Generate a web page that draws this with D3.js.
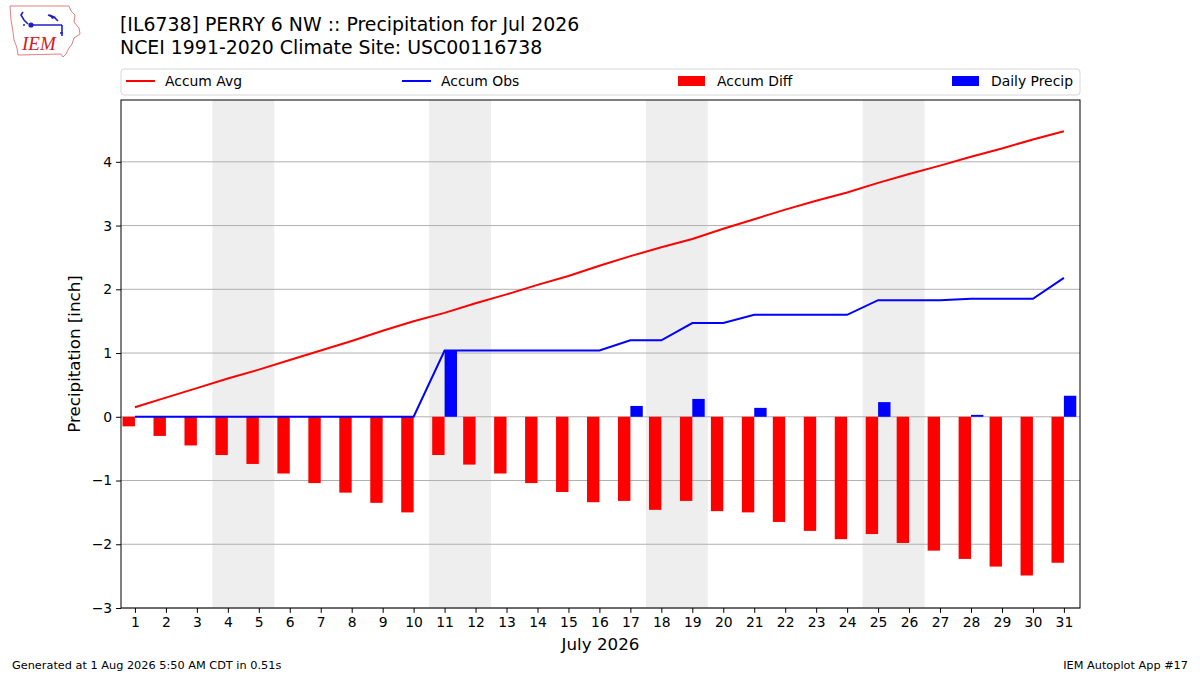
<!DOCTYPE html>
<html>
<head>
<meta charset="utf-8">
<script src="https://cdn.jsdelivr.net/npm/d3@7"></script>
<style>
  body { margin: 0; background: #fff; }
  svg { font-family: "DejaVu Sans", sans-serif; }
</style>
</head>
<body>
<svg id="chart"></svg>
<script>
let w = 1200;
let h = 675;
let margin = {left: 121, right: 1080, top: 100, bottom: 608};

// day of month
let days = d3.range(1, 32);
// accumulated climatology (inch)
let accumAvg = [0.15, 0.30, 0.45, 0.60, 0.74, 0.89, 1.04, 1.19, 1.35, 1.50,
                1.63, 1.78, 1.92, 2.07, 2.21, 2.37, 2.52, 2.66, 2.79, 2.95,
                3.10, 3.25, 3.39, 3.52, 3.67, 3.81, 3.94, 4.08, 4.21, 4.35, 4.48];
// accumulated observed (inch)
let accumObs = [0, 0, 0, 0, 0, 0, 0, 0, 0, 0,
                1.04, 1.04, 1.04, 1.04, 1.04, 1.04, 1.20, 1.20, 1.47, 1.47,
                1.60, 1.60, 1.60, 1.60, 1.83, 1.83, 1.83, 1.85, 1.85, 1.85, 2.18];
// observed minus climatology
let accumDiff = [-0.15, -0.30, -0.45, -0.60, -0.74, -0.89, -1.04, -1.19, -1.35, -1.50,
                 -0.60, -0.75, -0.89, -1.04, -1.18, -1.34, -1.32, -1.46, -1.32, -1.48,
                 -1.50, -1.65, -1.79, -1.92, -1.84, -1.98, -2.10, -2.23, -2.35, -2.49, -2.29];
// daily precip
let dailyPrecip = [0, 0, 0, 0, 0, 0, 0, 0, 0, 0,
                   1.04, 0, 0, 0, 0, 0, 0.17, 0, 0.28, 0,
                   0.14, 0, 0, 0, 0.23, 0, 0, 0.03, 0, 0, 0.33];
// saturdays
let weekends = [4, 11, 18, 25];
let yTicks = [-3, -2, -1, 0, 1, 2, 3, 4];

let svg = d3.select('#chart')
    .attr('width', w)
    .attr('height', h);

let xScale = d3.scaleLinear().domain([0.55, 31.52]).range([margin.left, margin.right]);
let yScale = d3.scaleLinear().domain([-3, 4.97]).range([margin.bottom, margin.top]);

// weekend shading
svg.append('g')
    .selectAll('rect')
    .data(weekends)
    .enter()
    .append('rect')
        .attr('x', d => xScale(d - 0.5))
        .attr('width', d => xScale(d + 1.5) - xScale(d - 0.5))
        .attr('y', margin.top)
        .attr('height', margin.bottom - margin.top)
        .attr('fill', '#eeeeee');

// grid
svg.append('g')
    .selectAll('line')
    .data(yTicks)
    .enter()
    .append('line')
        .attr('x1', margin.left)
        .attr('x2', margin.right)
        .attr('y1', d => yScale(d))
        .attr('y2', d => yScale(d))
        .attr('stroke', '#b0b0b0')
        .attr('stroke-width', 1);

let barW = xScale(1.4) - xScale(1);

// accum diff bars (left of day)
svg.append('g')
    .selectAll('rect')
    .data(days)
    .enter()
    .append('rect')
        .attr('x', d => xScale(d - 0.4))
        .attr('width', barW)
        .attr('y', (d, i) => yScale(Math.max(0, accumDiff[i])))
        .attr('height', (d, i) => Math.abs(yScale(accumDiff[i]) - yScale(0)))
        .attr('fill', '#ff0000');

// daily precip bars (right of day)
svg.append('g')
    .selectAll('rect')
    .data(days.filter((d, i) => dailyPrecip[i] > 0))
    .enter()
    .append('rect')
        .attr('x', d => xScale(d))
        .attr('width', barW)
        .attr('y', d => yScale(dailyPrecip[d - 1]))
        .attr('height', d => yScale(0) - yScale(dailyPrecip[d - 1]))
        .attr('fill', '#0000ff');

let line = d3.line()
    .x((d, i) => xScale(days[i]))
    .y(d => yScale(d));

svg.append('path')
    .attr('d', line(accumAvg))
    .attr('fill', 'none')
    .attr('stroke', '#ff0000')
    .attr('stroke-width', 2);

svg.append('path')
    .attr('d', line(accumObs))
    .attr('fill', 'none')
    .attr('stroke', '#0000ff')
    .attr('stroke-width', 2);

// axes
let xAxis = d3.axisBottom(xScale).tickValues(days).tickSize(4.9).tickPadding(4).tickFormat(d3.format('d'));
let yAxis = d3.axisLeft(yScale).tickValues(yTicks).tickSize(4.9).tickPadding(4)
    .tickFormat(d => d < 0 ? '\u2212' + Math.abs(d) : d);

let xAxisGroup = svg.append('g')
    .attr('transform', `translate(0, ${margin.bottom})`)
    .call(xAxis);
let yAxisGroup = svg.append('g')
    .attr('transform', `translate(${margin.left}, 0)`)
    .call(yAxis);

[xAxisGroup, yAxisGroup].forEach(g => {
    g.select('.domain').remove();
    g.selectAll('text')
        .attr('font-family', 'DejaVu Sans')
        .attr('font-size', '13.9px')
        .attr('fill', '#000');
    g.selectAll('line').attr('stroke', '#000').attr('stroke-width', 1);
});

// frame
svg.append('rect')
    .attr('x', margin.left)
    .attr('y', margin.top)
    .attr('width', margin.right - margin.left)
    .attr('height', margin.bottom - margin.top)
    .attr('fill', 'none')
    .attr('stroke', '#000')
    .attr('stroke-width', 1);

// axis labels
svg.append('text')
    .attr('x', (margin.left + margin.right) / 2)
    .attr('y', 650)
    .attr('text-anchor', 'middle')
    .attr('font-size', '16.7px')
    .text('July 2026');

svg.append('text')
    .attr('transform', `translate(80, ${(margin.top + margin.bottom) / 2}) rotate(-90)`)
    .attr('text-anchor', 'middle')
    .attr('font-size', '16.7px')
    .text('Precipitation [inch]');

// title
svg.append('text')
    .attr('x', 120)
    .attr('y', 31)
    .attr('font-size', '18.9px')
    .text('[IL6738] PERRY 6 NW :: Precipitation for Jul 2026');
svg.append('text')
    .attr('x', 120)
    .attr('y', 54)
    .attr('font-size', '18.9px')
    .text('NCEI 1991-2020 Climate Site: USC00116738');

// legend
let legend = svg.append('g');
legend.append('rect')
    .attr('x', 121)
    .attr('y', 69)
    .attr('width', 959)
    .attr('height', 26)
    .attr('rx', 3)
    .attr('fill', '#fff')
    .attr('stroke', '#d6d6d6');

let legendItems = [
    {label: 'Accum Avg', color: '#ff0000', kind: 'line', x: 126},
    {label: 'Accum Obs', color: '#0000ff', kind: 'line', x: 402},
    {label: 'Accum Diff', color: '#ff0000', kind: 'rect', x: 678},
    {label: 'Daily Precip', color: '#0000ff', kind: 'rect', x: 952}
];
legendItems.forEach(it => {
    if (it.kind === 'line') {
        legend.append('line')
            .attr('x1', it.x).attr('x2', it.x + 29)
            .attr('y1', 81).attr('y2', 81)
            .attr('stroke', it.color).attr('stroke-width', 2);
    } else {
        legend.append('rect')
            .attr('x', it.x).attr('y', 76)
            .attr('width', 27).attr('height', 10)
            .attr('fill', it.color);
    }
    legend.append('text')
        .attr('x', it.x + 39)
        .attr('y', 86)
        .attr('font-size', '13.9px')
        .text(it.label);
});

// footer
svg.append('text')
    .attr('x', 12).attr('y', 669)
    .attr('font-size', '11.3px')
    .text('Generated at 1 Aug 2026 5:50 AM CDT in 0.51s');
svg.append('text')
    .attr('x', 1188).attr('y', 669)
    .attr('text-anchor', 'end')
    .attr('font-size', '11.3px')
    .text('IEM Autoplot App #17');

// logo
let logo = svg.append('g');
logo.append('path')
    .attr('d', 'M10,6 L69,6 L71,11 L75,15 L74,22 L79,28 L80,34 L74,38 L72,44 L69,48 L66,54 L63,57 L61,54 L18,55 L17,48 L14,40 L13,32 L11,20 Z')
    .attr('fill', 'none')
    .attr('stroke', '#e08080')
    .attr('stroke-width', 1);
logo.append('path')
    .attr('d', 'M31,25 L62,25 M48,15 L55,18 L58,21 M62,25 L62,36 M60,33 L63,33 M23,12 L21,15 L24,20 L28,24')
    .attr('fill', 'none')
    .attr('stroke', '#2020c0')
    .attr('stroke-width', 1.6);
logo.append('path')
    .attr('d', 'M49,14 L56,17 L52,19 Z')
    .attr('fill', '#2020c0');
logo.append('circle').attr('cx', 31).attr('cy', 25).attr('r', 2.6).attr('fill', '#2020c0');
logo.append('circle').attr('cx', 24).attr('cy', 25).attr('r', 1).attr('fill', '#2020c0');
logo.append('text')
    .attr('x', 22).attr('y', 50)
    .attr('font-family', 'Liberation Serif')
    .attr('font-style', 'italic')
    .attr('font-size', '19px')
    .attr('fill', '#d02020')
    .text('IEM');
</script>
</body>
</html>
